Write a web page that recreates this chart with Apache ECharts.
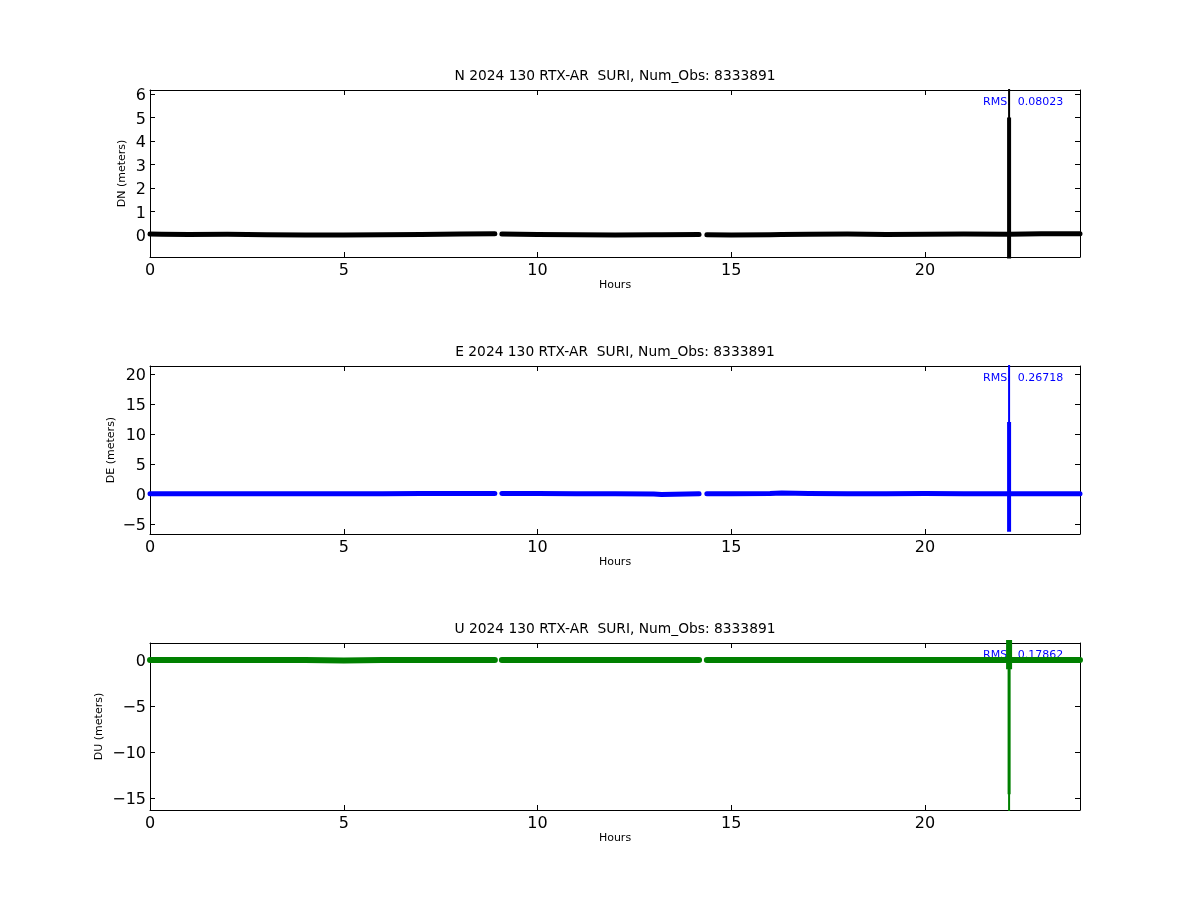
<!DOCTYPE html>
<html>
<head>
<meta charset="utf-8">
<script src="https://cdn.jsdelivr.net/npm/echarts@6/dist/echarts.min.js"></script>
<style>html,body{margin:0;padding:0;background:#fff;}#c{width:1200px;height:900px;}</style>
</head>
<body>
<div id="c"></div>
<script>
// ---------- data ----------
const titles = [
  'N 2024 130 RTX-AR  SURI, Num_Obs: 8333891',
  'E 2024 130 RTX-AR  SURI, Num_Obs: 8333891',
  'U 2024 130 RTX-AR  SURI, Num_Obs: 8333891'
];
const yNames = ['DN (meters)', 'DE (meters)', 'DU (meters)'];
const rmsValues = ['0.08023', '0.26718', '0.17862'];
const colors = ['#000000', '#0000ff', '#008000'];

// sample hours of the baseline (breaks after 8.90 h and 14.17 h = data gaps)
const baseHours = [0, 0.3, 1, 2, 3, 4, 5, 6, 7, 8, 8.9,
                   9.08, 10, 11, 12, 13, 13.2, 14.17,
                   14.37, 15, 16, 16.3, 17, 18, 19, 20, 21, 22.17, 23, 24];
const gapAfter = [8.9, 14.17];
const nBase = [0.04, 0.03, 0.02, 0.03, 0.01, 0.0, 0.0, 0.01, 0.02, 0.04, 0.05,
               0.04, 0.02, 0.01, 0.0, 0.01, 0.01, 0.02,
               0.01, 0.0, 0.01, 0.02, 0.03, 0.04, 0.02, 0.03, 0.04, 0.03, 0.05, 0.05];
const eBase = [0.05, 0.05, 0.05, 0.05, 0.05, 0.05, 0.05, 0.05, 0.08, 0.08, 0.06,
               0.08, 0.1, 0.05, 0.05, 0.0, -0.08, 0.05,
               0.05, 0.05, 0.1, 0.18, 0.1, 0.05, 0.05, 0.08, 0.05, 0.05, 0.05, 0.05];
const uBase = [0.0, 0.0, 0.0, 0.0, 0.0, 0.0, -0.04, 0.0, 0.0, 0.0, 0.0,
               0.0, 0.0, 0.0, 0.0, 0.0, 0.0, 0.0,
               0.0, 0.0, 0.0, 0.0, 0.0, 0.0, 0.0, 0.0, 0.0, 0.0, 0.0, 0.0];

// outlier burst at ~22.17 h
const spikeHour = 22.17;
const nSpikeOuter = [0, 6.8, -1.3, 0];
const nSpikeDense = [0, 5.0, -0.9, 4.3, -1.0, 3.4, -0.6, 2.4, -0.3, 1.5, 0.4, 0.9, 0];
const eSpikeOuter = [0, 23, 0];
const eSpikeDense = [0, 12.0, -6.3, 10.0, -5.5, 7.0, -4.5, 4.0, -3.0, 2.0, -1.0, 0];
const uSpikeOuter = [0, -17.5, 0];
const uSpikeDense = [0, 2.5, -1.0, 2.2, -0.5, 1.0, 0];
const uSpikeMid = [0, -14.6, -0.5, -10.5, 0];

// axis ranges
const xRange = [0, 24];
const yRanges = [[-0.94, 6.17], [-6.67, 21.33], [-16.3, 1.85]];
const yIntervals = [1, 5, 5];

// ---------- layout ----------
const grids = [
  {left: 150, top: 90, width: 930, height: 167},
  {left: 150, top: 366, width: 930, height: 168},
  {left: 150, top: 643, width: 930, height: 167}
];
const yNameGaps = [22, 33, 45];
const FONT = 'DejaVu Sans';
const minusFmt = v => '{t|' + String(v).replace('-', '\u2212') + '}';

function baseData(vals) {
  const out = [];
  baseHours.forEach((h, i) => {
    out.push([h, vals[i]]);
    if (gapAfter.includes(h)) out.push([h, null]);
  });
  return out;
}
const spikeData = vals => vals.map(v => [spikeHour, v]);

const xAxes = [], yAxes = [], series = [], graphics = [];
grids.forEach((g, i) => {
  const tick = {show: true, inside: true, length: 5, lineStyle: {color: '#000', width: 1}};
  const line = {show: true, onZero: false, lineStyle: {color: '#000', width: 1}};
  xAxes.push({
    type: 'value', gridIndex: i, position: 'bottom', min: xRange[0], max: xRange[1], interval: 5,
    axisLine: line, axisTick: tick, splitLine: {show: false},
    axisLabel: {show: true, color: '#000', fontSize: 16, fontFamily: FONT, margin: 6, showMaxLabel: false},
    name: 'Hours', nameLocation: 'middle', nameGap: 23, nameMoveOverlap: false,
    nameTextStyle: {color: '#000', fontSize: 11, fontFamily: FONT}
  });
  xAxes.push({
    type: 'value', gridIndex: i, position: 'top', min: xRange[0], max: xRange[1], interval: 5,
    axisLine: line, axisTick: tick, splitLine: {show: false}, axisLabel: {show: false}
  });
  const yr = yRanges[i];
  yAxes.push({
    type: 'value', gridIndex: i, position: 'left', min: yr[0], max: yr[1],
    minInterval: yIntervals[i], maxInterval: yIntervals[i],
    axisLine: line, axisTick: tick, splitLine: {show: false},
    axisLabel: {show: true, color: '#000', fontSize: 16, fontFamily: FONT, margin: 4,
                showMinLabel: false, showMaxLabel: false, formatter: minusFmt,
                rich: {t: {fontSize: 16, fontFamily: FONT, color: '#000', padding: [4, 0, 0, 0]}}},
    name: yNames[i], nameLocation: 'middle', nameGap: yNameGaps[i], nameRotate: 90, nameMoveOverlap: false,
    nameTextStyle: {color: '#000', fontSize: 11, fontFamily: FONT}
  });
  yAxes.push({
    type: 'value', gridIndex: i, position: 'right', min: yr[0], max: yr[1],
    minInterval: yIntervals[i], maxInterval: yIntervals[i],
    axisLine: line, axisTick: tick, splitLine: {show: false}, axisLabel: {show: false}
  });
  graphics.push({
    type: 'text', z: 0,
    x: g.left + g.width / 2, y: g.top - 14,
    style: {text: titles[i], fill: '#000', font: '13.8px "DejaVu Sans"', textAlign: 'center', textVerticalAlign: 'middle'}
  });
  graphics.push({
    type: 'text', z: 0,
    x: 983, y: g.top + 12,
    style: {text: 'RMS:  ' + rmsValues[i], fill: '#0000ff', font: '11px "DejaVu Sans"', textAlign: 'left', textVerticalAlign: 'middle'}
  });
});

const baseSets = [nBase, eBase, uBase];
const outerSets = [nSpikeOuter, eSpikeOuter, uSpikeOuter];
const denseSets = [nSpikeDense, eSpikeDense, uSpikeDense];
grids.forEach((g, i) => {
  const common = {type: 'line', xAxisIndex: 2 * i, yAxisIndex: 2 * i, symbol: 'none',
                  clip: true, connectNulls: false, animation: false, silent: true, z: 3};
  series.push(Object.assign({}, common, {
    data: baseData(baseSets[i]),
    lineStyle: {color: colors[i], width: i === 2 ? 6 : 5, cap: 'round', join: 'round'}
  }));
  series.push(Object.assign({}, common, {
    data: spikeData(outerSets[i]),
    lineStyle: {color: colors[i], width: 2, cap: 'butt'}
  }));
  series.push(Object.assign({}, common, {
    data: spikeData(denseSets[i]),
    lineStyle: {color: colors[i], width: i === 2 ? 6 : 4, cap: 'butt'}
  }));
});
series.push({
  type: 'line', xAxisIndex: 4, yAxisIndex: 4, symbol: 'none', clip: true, animation: false, silent: true, z: 3,
  data: spikeData(uSpikeMid), lineStyle: {color: colors[2], width: 3}
});

const chart = echarts.init(document.getElementById('c'), null, {renderer: 'canvas'});
chart.setOption({
  backgroundColor: '#ffffff',
  animation: false,
  grid: grids.map(g => Object.assign({show: false, containLabel: false}, g)),
  xAxis: xAxes,
  yAxis: yAxes,
  series: series,
  graphic: {elements: graphics}
});
</script>
</body>
</html>
